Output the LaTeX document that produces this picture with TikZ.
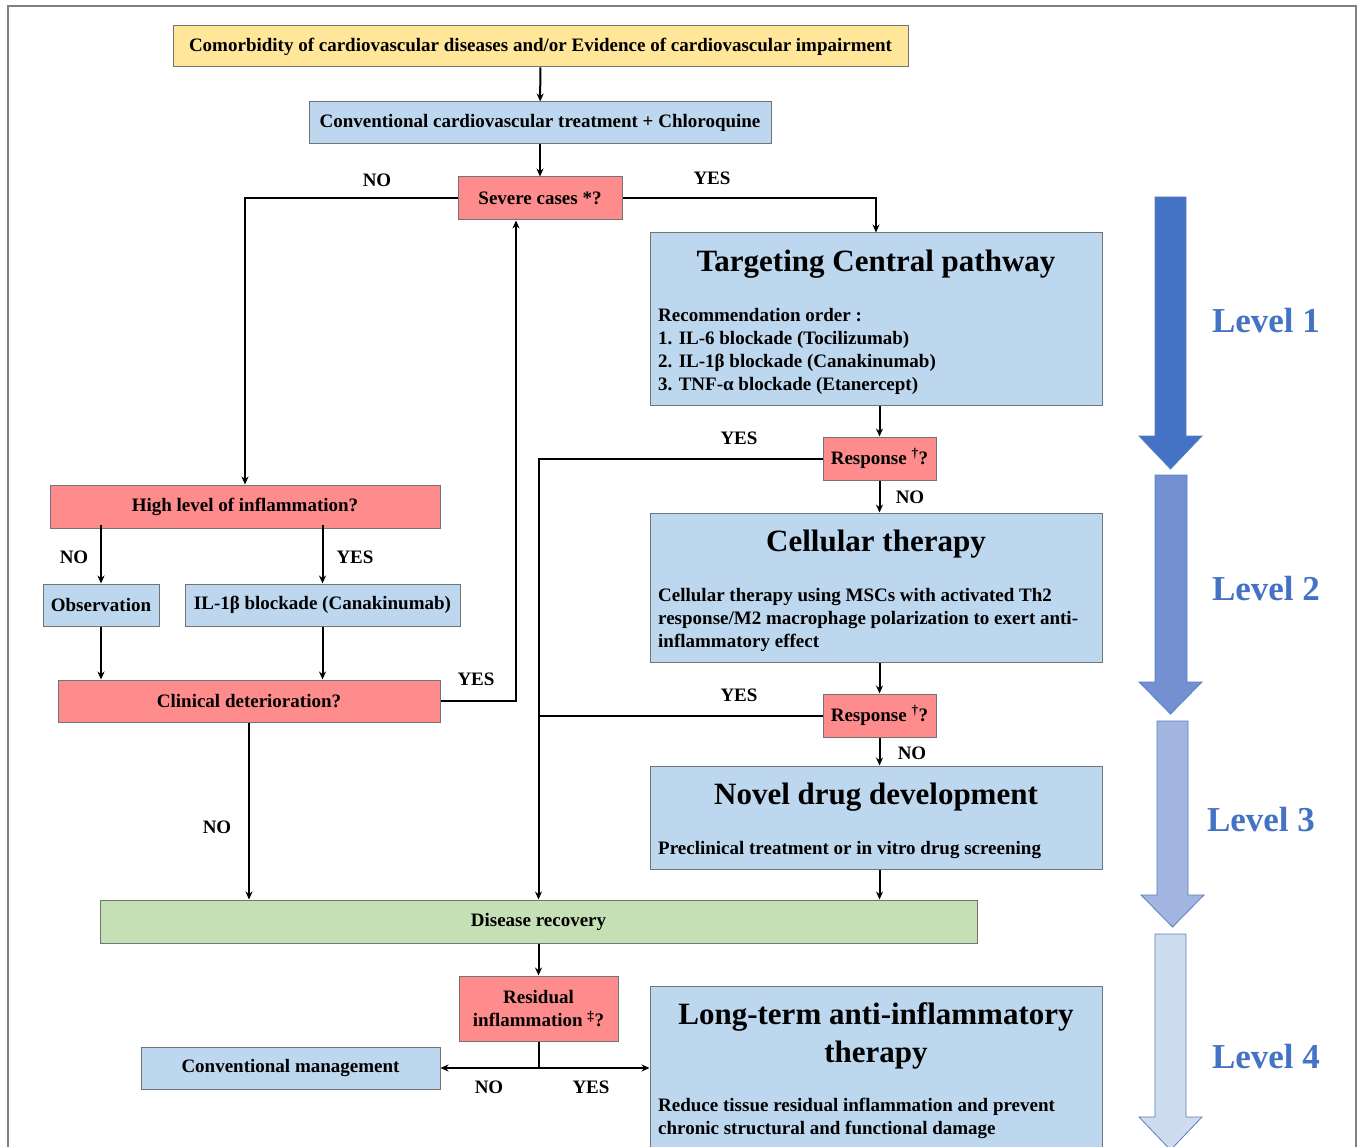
\documentclass[tikz,border=0pt]{standalone}
\usepackage{fontspec}
\setmainfont{Liberation Serif}
\usetikzlibrary{arrows.meta}
\definecolor{boxyellow}{HTML}{FFE699}
\definecolor{boxblue}{HTML}{BDD7EE}
\definecolor{boxred}{HTML}{FF8C8C}
\definecolor{boxgreen}{HTML}{C5E0B4}
\definecolor{levelA}{HTML}{4472C4}
\definecolor{levelB}{HTML}{7391D0}
\definecolor{levelC}{HTML}{A2B5E0}
\definecolor{levelD}{HTML}{CDDCEE}
\definecolor{levelline}{HTML}{5A7DC0}
\begin{document}
\begin{tikzpicture}[x=1pt,y=-1pt,
		box/.style={draw=black!55, line width=1pt, inner sep=0pt, align=center, font=\fontsize{19}{23}\selectfont\bfseries},
		conn/.style={line width=2pt, -{Stealth[length=8pt,width=7pt]}},
		wire/.style={line width=2pt},
		lbl/.style={inner sep=0pt, font=\fontsize{19}{23}\selectfont\bfseries},
		heading/.style={inner sep=0pt, align=center, font=\fontsize{31}{38}\selectfont\bfseries},
		body/.style={inner sep=0pt, anchor=west, align=left, font=\fontsize{19}{23}\selectfont\bfseries},
		leveltext/.style={inner sep=0pt, text=levelA, font=\fontsize{35}{40}\selectfont\bfseries},
		levelarrow/.style={draw=levelline, line width=0.8pt, line join=miter}]
		\path[use as bounding box, clip] (0,0) rectangle (1357,1147);
		% frame
		\draw [black!50, line width=1.5pt] (8,1160) -- (8,6) -- (1356,6) -- (1356,1160);
		% boxes
		\node [box, fill=boxyellow, minimum width=735pt, minimum height=41pt] (cvd) at (540.5,46.5) {Comorbidity of cardiovascular diseases and/or Evidence of cardiovascular impairment};
		\node [box, fill=boxblue, minimum width=462pt, minimum height=42pt] (conv) at (540,123) {Conventional cardiovascular treatment + Chloroquine};
		\node [box, fill=boxred, minimum width=164pt, minimum height=43pt] (severe) at (540,198.5) {Severe cases *?};
		\node [box, fill=boxblue, minimum width=452pt, minimum height=172pt] (central) at (876,319) {};
		\node [heading] (centralT) at (876,264) {Targeting Central pathway};
		\node [body] (centralB) at (658,351) {Recommendation order\ :\\1. IL-6 blockade (Tocilizumab)\\2. IL-1β blockade (Canakinumab)\\3. TNF-α blockade (Etanercept)};
		\node [box, fill=boxred, minimum width=113pt, minimum height=43pt] (resp1) at (879.5,458.5) {Response \textsuperscript{†}?};
		\node [box, fill=boxblue, minimum width=452pt, minimum height=149pt] (cell) at (876,587.5) {};
		\node [heading] (cellT) at (876,544) {Cellular therapy};
		\node [body] (cellB) at (658,619.5) {Cellular therapy using MSCs with activated Th2\\response/M2 macrophage polarization to exert anti-\\inflammatory effect};
		\node [box, fill=boxred, minimum width=113pt, minimum height=43pt] (resp2) at (879.5,715.5) {Response \textsuperscript{†}?};
		\node [box, fill=boxblue, minimum width=452pt, minimum height=103pt] (novel) at (876,817.5) {};
		\node [heading] (novelT) at (876,797) {Novel drug development};
		\node [body] (novelB) at (658,849.5) {Preclinical treatment or in vitro drug screening};
		\node [box, fill=boxgreen, minimum width=877pt, minimum height=43pt] (rec) at (538.5,921.5) {Disease recovery};
		\node [box, fill=boxred, minimum width=159pt, minimum height=65pt] (resid) at (538.5,1008.5) {Residual\\inflammation \textsuperscript{‡}?};
		\node [box, fill=boxblue, minimum width=452pt, minimum height=184pt] (ltt) at (876,1078) {};
		\node [heading] (lttT) at (876,1036) {Long-term anti-inflammatory\\therapy};
		\node [body] (lttB) at (658,1118) {Reduce tissue residual inflammation and prevent\\chronic structural and functional damage};
		\node [box, fill=boxblue, minimum width=299pt, minimum height=42pt] (mgmt) at (290.5,1068) {Conventional management};
		\node [box, fill=boxred, minimum width=390pt, minimum height=43pt] (high) at (245,506.5) {High level of inflammation?};
		\node [box, fill=boxblue, minimum width=116pt, minimum height=42pt] (obs) at (101,605) {Observation};
		\node [box, fill=boxblue, minimum width=275pt, minimum height=42pt] (il1) at (322.5,605) {IL-1β blockade (Canakinumab)};
		\node [box, fill=boxred, minimum width=382pt, minimum height=42pt] (clin) at (249,701) {Clinical deterioration?};
		% connectors
		\draw [conn] (cvd) -- (conv);
		\draw [conn] (conv) -- (severe);
		\draw [conn] (severe.west) -| (high.north);
		\draw [conn] (severe.east) -| (central.north);
		\draw [conn] (resp1.north |- central.south) -- (resp1.north);
		\draw [conn] (resp1.west) -| (rec.north);
		\draw [conn] (resp1.south) -- (resp1.south |- cell.north);
		\draw [conn] (resp2.north |- cell.south) -- (resp2.north);
		\draw [wire] (resp2.west) -- (resp2.west -| rec.north);
		\draw [conn] (resp2.south) -- (resp2.south |- novel.north);
		\draw [conn] (novel.south -| resp1.south) -- (rec.north -| resp1.south);
		\draw [conn] ([yshift=4pt]obs.north |- high.south) -- (obs.north);
		\draw [conn] ([yshift=4pt]il1.north |- high.south) -- (il1.north);
		\draw [conn] (obs.south) -- (obs.south |- clin.north);
		\draw [conn] (il1.south) -- (il1.south |- clin.north);
		\draw [conn] (clin.east) -| ([xshift=-24pt]severe.south);
		\draw [conn] (clin.south) -- (clin.south |- rec.north);
		\draw [conn] (rec) -- (resid);
		\coordinate (split) at (resid.south |- mgmt.east);
		\draw [wire] (resid.south) -- (split);
		\draw [conn] (split) -- (mgmt.east);
		\draw [conn] (split) -- (split -| ltt.west);
		% labels
		\node [lbl] (noA) at (377,180) {NO};
		\node [lbl] (yesA) at (712,178) {YES};
		\node [lbl] (yesB) at (739,438) {YES};
		\node [lbl] (noB) at (910,497) {NO};
		\node [lbl] (yesC) at (739,695) {YES};
		\node [lbl] (noC) at (912,753) {NO};
		\node [lbl] (noD) at (74,557) {NO};
		\node [lbl] (yesD) at (355,557) {YES};
		\node [lbl] (yesE) at (476,679) {YES};
		\node [lbl] (noE) at (217,827) {NO};
		\node [lbl] (noF) at (489,1087) {NO};
		\node [lbl] (yesF) at (591,1087) {YES};
		% level arrows
		\draw [levelarrow, fill=levelA] (1155,197) -- (1186,197) -- (1186,436) -- (1202,436) -- (1170.5,469) -- (1139,436) -- (1155,436) -- cycle;
		\draw [levelarrow, fill=levelB] (1155,475) -- (1187,475) -- (1187,682) -- (1202,682) -- (1170.5,714) -- (1139,682) -- (1155,682) -- cycle;
		\draw [levelarrow, fill=levelC] (1157,721) -- (1188,721) -- (1188,895) -- (1204,895) -- (1172.5,927) -- (1141,895) -- (1157,895) -- cycle;
		\draw [levelarrow, fill=levelD] (1155,934) -- (1186,934) -- (1186,1117) -- (1202,1117) -- (1170.5,1150) -- (1139,1117) -- (1155,1117) -- cycle;
		\node [leveltext] (lvA) at (1266,321) {Level 1};
		\node [leveltext] (lvB) at (1266,589) {Level 2};
		\node [leveltext] (lvC) at (1261,820) {Level 3};
		\node [leveltext] (lvD) at (1266,1057) {Level 4};
	\end{tikzpicture}
\end{document}
